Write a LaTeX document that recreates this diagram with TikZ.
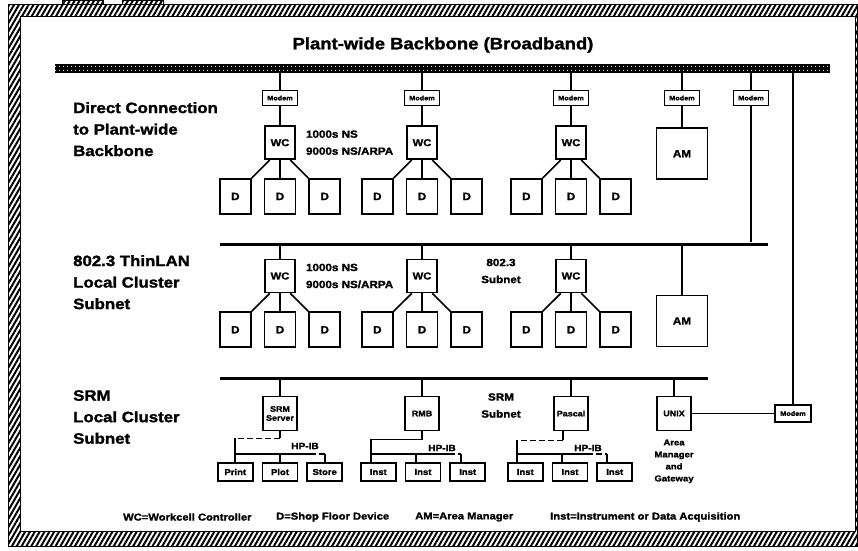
\documentclass[tikz,border=0pt]{standalone}
\usepackage{fontspec}
\newfontfamily\heavy[FakeStretch=1.12, FakeBold=1.6]{Liberation Sans}
\usetikzlibrary{positioning, calc, patterns.meta}

\begin{document}
\begin{tikzpicture}[
    x=1pt, y=-1pt,
    box/.style={draw, line width=1.7pt, inner sep=0pt, align=center},
    modem/.style={box, minimum width=35pt, minimum height=15pt, font=\heavy\bfseries\fontsize{6.5}{6.5}\selectfont},
    wc/.style={box, minimum width=30pt, minimum height=33pt, font=\heavy\bfseries\fontsize{10}{10}\selectfont},
    dev/.style={box, minimum width=31pt, minimum height=35pt, font=\heavy\bfseries\fontsize{10.5}{10.5}\selectfont},
    am/.style={box, minimum width=51pt, minimum height=51pt, font=\heavy\bfseries\fontsize{10.5}{10.5}\selectfont},
    host/.style={box, minimum width=34pt, minimum height=34pt, font=\heavy\bfseries\fontsize{8}{9}\selectfont},
    inst/.style={box, minimum width=35pt, minimum height=18pt, font=\heavy\bfseries\fontsize{8.5}{8.5}\selectfont},
    bus/.style={fill=black, inner sep=0pt, minimum height=3pt},
    wire/.style={line width=1.7pt},
    dashwire/.style={line width=1.5pt, dash pattern=on 6pt off 3pt},
    side/.style={anchor=north west, inner sep=0pt, align=left, font=\heavy\bfseries\fontsize{15}{21.5}\selectfont},
    note/.style={inner sep=0pt, align=left, font=\heavy\bfseries\fontsize{10.4}{17}\selectfont},
    areatext/.style={inner sep=0pt, align=center, font=\heavy\bfseries\fontsize{8.5}{12}\selectfont},
    hp/.style={inner sep=0pt, font=\heavy\bfseries\fontsize{9}{9}\selectfont},
    gloss/.style={anchor=west, inner sep=0pt, font=\heavy\bfseries\fontsize{10}{10}\selectfont},
    hatch/.style={draw, line width=1pt, pattern={Lines[angle=60, distance=4.2pt, line width=2pt]}}
  ]
  \useasboundingbox (0,0) rectangle (858,550);

  % frame
  \path[hatch] (62,0) rectangle (103,4);
  \path[hatch] (122,0) rectangle (163,4);
  \path[hatch, even odd rule] (8,4) rectangle (857.5,546) (20,16) rectangle (855,531);

  % backbone
  \node[font=\heavy\bfseries\fontsize{16.5}{16.5}\selectfont] (title) at (443,45) {Plant-wide Backbone (Broadband)};
  \node[fill=black, inner sep=0pt, minimum width=775pt, minimum height=9pt, anchor=west] (bb) at (55,68.5) {};
  \path[pattern={Dots[distance=4pt, radius=0.7pt]}, pattern color=white] (bb.south west) rectangle (bb.north east);

  % side labels
  \node[side] (lbl1) at (73,102) {Direct Connection\\to Plant-wide\\Backbone};
  \node[side] (lbl2) at (73,255) {802.3 ThinLAN\\Local Cluster\\Subnet};
  \node[side] (lbl3) at (73,390) {SRM\\Local Cluster\\Subnet};

  % direct connection row
  \node[modem] (m1) at (280,98) {Modem};
  \node[modem] (m2) at (422,98) {Modem};
  \node[modem] (m3) at (571,98) {Modem};
  \node[modem] (m4) at (682,98) {Modem};
  \node[modem] (m5) at (751,98) {Modem};

  \node[wc] (w1) [below=19pt of m1] {WC};
  \node[wc] (w2) [below=19pt of m2] {WC};
  \node[wc] (w3) [below=19pt of m3] {WC};
  \node[am] (am1) [below=21pt of m4] {AM};
  \node[note] (n1) [right=10pt of w1] {1000s NS\\9000s NS/ARPA};

  \node[dev] (d12) [below=18pt of w1] {D};
  \node[dev] (d11) [left=12pt of d12] {D};
  \node[dev] (d13) [right=12pt of d12] {D};
  \node[dev] (d22) [below=18pt of w2] {D};
  \node[dev] (d21) [left=12pt of d22] {D};
  \node[dev] (d23) [right=12pt of d22] {D};
  \node[dev] (d32) [below=18pt of w3] {D};
  \node[dev] (d31) [left=12pt of d32] {D};
  \node[dev] (d33) [right=12pt of d32] {D};

  % thinlan row
  \node[bus, minimum width=548pt, anchor=west] (lan) at (220,244) {};
  \node[wc] (v1) at (280,276) {WC};
  \node[wc] (v2) at (422,276) {WC};
  \node[wc] (v3) at (571,276) {WC};
  \node[am] (am2) at (682,321) {AM};
  \node[note] (n2) [right=10pt of v1] {1000s NS\\9000s NS/ARPA};
  \node[note, align=center] (sub1) at (501,271) {802.3\\Subnet};

  \node[dev] (e12) [below=18pt of v1] {D};
  \node[dev] (e11) [left=12pt of e12] {D};
  \node[dev] (e13) [right=12pt of e12] {D};
  \node[dev] (e22) [below=18pt of v2] {D};
  \node[dev] (e21) [left=12pt of e22] {D};
  \node[dev] (e23) [right=12pt of e22] {D};
  \node[dev] (e32) [below=18pt of v3] {D};
  \node[dev] (e31) [left=12pt of e32] {D};
  \node[dev] (e33) [right=12pt of e32] {D};

  % srm row
  \node[bus, minimum width=488pt, anchor=west] (srm) at (220,378) {};
  \node[host] (s1) at (280,413.5) {SRM\\Server};
  \node[host] (s2) at (422,413.5) {RMB};
  \node[host] (s3) at (571,413.5) {Pascal};
  \node[host] (ux) at (674,413.5) {UNIX};
  \node[modem, minimum width=36pt, minimum height=17pt] (m6) at (793,413.5) {Modem};
  \node[areatext] (gw) [below=8pt of ux] {Area\\Manager\\and\\Gateway};
  \node[note, align=center] (sub2) at (501,405.5) {SRM\\Subnet};

  \node[inst] (p2) at (280,472) {Plot};
  \node[inst] (p1) [left=8pt of p2] {Print};
  \node[inst] (p3) [right=8pt of p2] {Store};
  \node[inst] (i22) at (423,472) {Inst};
  \node[inst] (i21) [left=8pt of i22] {Inst};
  \node[inst] (i23) [right=8pt of i22] {Inst};
  \node[inst] (i32) at (570,472) {Inst};
  \node[inst] (i31) [left=8pt of i32] {Inst};
  \node[inst] (i33) [right=8pt of i32] {Inst};

  % backbone drops
  \draw[wire] (bb.south -| m1) -- (m1);
  \draw[wire] (bb.south -| m2) -- (m2);
  \draw[wire] (bb.south -| m3) -- (m3);
  \draw[wire] (bb.south -| m4) -- (m4);
  \draw[wire] (bb.south -| m5) -- (m5);
  \draw[wire] (bb.south -| m6) -- (m6);
  \draw[wire] (m1) -- (w1);
  \draw[wire] (m2) -- (w2);
  \draw[wire] (m3) -- (w3);
  \draw[wire] (m4) -- (am1);
  \draw[wire] (m5) -- (lan.north -| m5);

  % WC to devices
  \draw[wire] ($(w1.south)!0.65!(w1.south west)$) -- (d11.north east);
  \draw[wire] (w1) -- (d12);
  \draw[wire] ($(w1.south)!0.65!(w1.south east)$) -- (d13.north west);
  \draw[wire] ($(w2.south)!0.65!(w2.south west)$) -- (d21.north east);
  \draw[wire] (w2) -- (d22);
  \draw[wire] ($(w2.south)!0.65!(w2.south east)$) -- (d23.north west);
  \draw[wire] ($(w3.south)!0.65!(w3.south west)$) -- (d31.north east);
  \draw[wire] (w3) -- (d32);
  \draw[wire] ($(w3.south)!0.65!(w3.south east)$) -- (d33.north west);

  % thinlan drops
  \draw[wire] (lan.south -| v1) -- (v1);
  \draw[wire] (lan.south -| v2) -- (v2);
  \draw[wire] (lan.south -| v3) -- (v3);
  \draw[wire] (lan.south -| am2) -- (am2);
  \draw[wire] ($(v1.south)!0.65!(v1.south west)$) -- (e11.north east);
  \draw[wire] (v1) -- (e12);
  \draw[wire] ($(v1.south)!0.65!(v1.south east)$) -- (e13.north west);
  \draw[wire] ($(v2.south)!0.65!(v2.south west)$) -- (e21.north east);
  \draw[wire] (v2) -- (e22);
  \draw[wire] ($(v2.south)!0.65!(v2.south east)$) -- (e23.north west);
  \draw[wire] ($(v3.south)!0.65!(v3.south west)$) -- (e31.north east);
  \draw[wire] (v3) -- (e32);
  \draw[wire] ($(v3.south)!0.65!(v3.south east)$) -- (e33.north west);

  % srm drops
  \draw[wire] (srm.south -| s1) -- (s1);
  \draw[wire] (srm.south -| s2) -- (s2);
  \draw[wire] (srm.south -| s3) -- (s3);
  \draw[wire] (srm.south -| ux) -- (ux);
  \draw[wire] (ux) -- (m6);

  % HP-IB under SRM Server
  \coordinate (t1) at ($(s1.south)+(0,7)$);
  \coordinate (b1) at ($(p1.north)+(0,-8)$);
  \draw[wire] (s1.south) -- (t1);
  \draw[dashwire] (t1) -- (t1 -| p1.north);
  \draw[wire] (t1 -| p1.north) -- (p1.north);
  \draw[wire] (b1) -- ($(b1 -| p3.north)+(-15,0)$);
  \draw[dashwire] ($(b1 -| p3.north)+(-15,0)$) -- (b1 -| p3.north);
  \draw[wire] (b1 -| p2.north) -- (p2.north);
  \draw[wire] (b1 -| p3.north) -- (p3.north);
  \node[hp] (hp1) at (305,446) {HP-IB};

  % HP-IB under RMB
  \coordinate (t2) at ($(s2.south)+(0,8)$);
  \coordinate (a21) at ($(i21.north)+(-7,0)$);
  \coordinate (a22) at ($(i22.north)+(-7,0)$);
  \coordinate (a23) at ($(i23.north)+(-7,0)$);
  \coordinate (b2) at ($(a21)+(0,-8)$);
  \draw[wire] (s2.south) -- (t2) -- (t2 -| a21) -- (a21);
  \draw[wire] (b2) -- ($(b2 -| a23)+(-12,0)$);
  \draw[dashwire] ($(b2 -| a23)+(-12,0)$) -- (b2 -| a23);
  \draw[wire] (b2 -| a22) -- (a22);
  \draw[wire] (b2 -| a23) -- (a23);
  \node[hp] (hp2) at (442,448) {HP-IB};

  % HP-IB under Pascal
  \coordinate (c3) at ($(s3.south)+(-8,0)$);
  \coordinate (t3) at ($(c3)+(0,9)$);
  \coordinate (a31) at ($(i31.north)+(-8,0)$);
  \coordinate (a32) at ($(i32.north)+(-8,0)$);
  \coordinate (a33) at ($(i33.north)+(-8,0)$);
  \coordinate (b3) at ($(a31)+(0,-8)$);
  \draw[wire] (c3) -- (t3);
  \draw[dashwire] (t3) -- (t3 -| a31);
  \draw[wire] (t3 -| a31) -- (a31);
  \draw[wire] (b3) -- ($(b3 -| a33)+(-20,0)$);
  \draw[dashwire] ($(b3 -| a33)+(-20,0)$) -- (b3 -| a33);
  \draw[wire] (b3 -| a32) -- (a32);
  \draw[wire] (b3 -| a33) -- (a33);
  \node[hp] (hp3) at (588,448) {HP-IB};

  % legend
  \node[gloss] (lg1) at (123,517) {WC=Workcell Controller};
  \node[gloss] (lg2) at (276,517) {D=Shop Floor Device};
  \node[gloss] (lg3) at (415,517) {AM=Area Manager};
  \node[gloss] (lg4) at (550,517) {Inst=Instrument or Data Acquisition};
\end{tikzpicture}
\end{document}
